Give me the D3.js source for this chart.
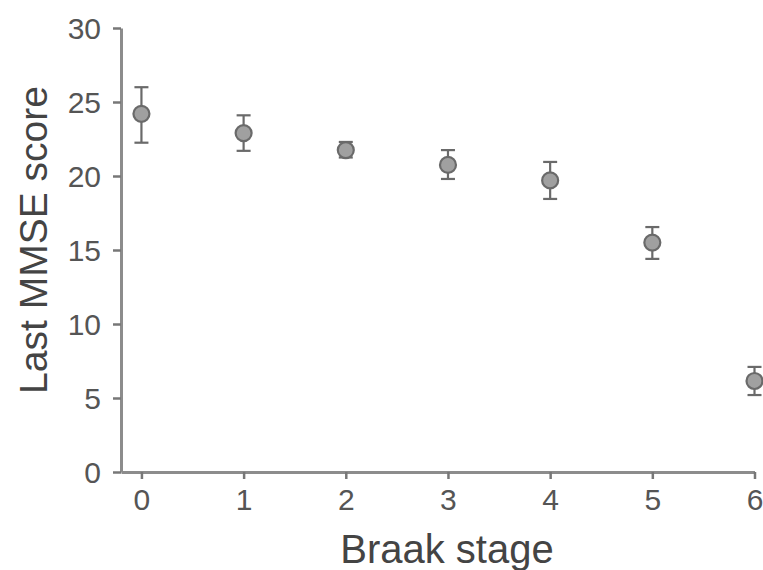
<!DOCTYPE html>
<html>
<head>
<meta charset="utf-8">
<script src="https://cdn.jsdelivr.net/npm/d3@7"></script>
<style>
  body { margin: 0; background: #fff; }
  svg { display: block; font-family: "Liberation Sans", Arial, sans-serif; }
</style>
</head>
<body>
<svg width="763" height="570"></svg>
<script>
// Braak stage vs last MMSE score (mean with error bars)
var stages = [0, 1, 2, 3, 4, 5, 6];
var meanScore = [24.2, 22.9, 21.75, 20.75, 19.7, 15.5, 6.15];
var errLow = [22.25, 21.7, 21.25, 19.8, 18.45, 14.4, 5.2];
var errHigh = [26.0, 24.1, 22.3, 21.75, 20.95, 16.55, 7.1];
var yTicks = [0, 5, 10, 15, 20, 25, 30];

var svg = d3.select("svg"),
    width = +svg.attr("width"),
    height = +svg.attr("height");

var axisColor = "#8c8c8c",
    textColor = "#555";

var x = d3.scaleLinear().domain([-0.2, 6]).range([121, 754.5]);
var y = d3.scaleLinear().domain([0, 30]).range([472, 28]);

var points = stages.map(function(s, i) {
  return {stage: s, mean: meanScore[i], lo: errLow[i], hi: errHigh[i]};
});

// y axis
var yAxis = svg.append("g")
    .attr("transform", "translate(" + x(-0.2) + ",0)")
    .call(d3.axisLeft(y).tickValues(yTicks).tickFormat(d3.format("d"))
      .tickSize(8).tickPadding(12).tickSizeOuter(0));

// x axis
var xAxis = svg.append("g")
    .attr("transform", "translate(0," + y(0) + ")")
    .call(d3.axisBottom(x).tickValues(stages).tickFormat(d3.format("d"))
      .tickSize(7).tickPadding(10).tickSizeOuter(0));

[yAxis, xAxis].forEach(function(ax) {
  ax.select(".domain").attr("stroke", axisColor).attr("stroke-width", 3);
  ax.selectAll(".tick line").attr("stroke", "#777").attr("stroke-width", 2.5);
  ax.selectAll(".tick text")
      .attr("fill", textColor)
      .style("font-size", "30px")
      .style("font-family", "'Liberation Sans', Arial, sans-serif");
});
yAxis.selectAll(".tick text").attr("dy", "0.36em");

// error bars
var bars = svg.append("g").attr("class", "errorbars")
  .selectAll("g")
  .data(points)
  .enter().append("g")
    .attr("stroke", "#6a6a6a")
    .attr("stroke-width", 2.2);

bars.append("line")
    .attr("x1", function(d) { return x(d.stage); })
    .attr("x2", function(d) { return x(d.stage); })
    .attr("y1", function(d) { return y(d.lo); })
    .attr("y2", function(d) { return y(d.hi); });

bars.append("line")
    .attr("x1", function(d) { return x(d.stage) - 7; })
    .attr("x2", function(d) { return x(d.stage) + 7; })
    .attr("y1", function(d) { return y(d.hi); })
    .attr("y2", function(d) { return y(d.hi); });

bars.append("line")
    .attr("x1", function(d) { return x(d.stage) - 7; })
    .attr("x2", function(d) { return x(d.stage) + 7; })
    .attr("y1", function(d) { return y(d.lo); })
    .attr("y2", function(d) { return y(d.lo); });

// markers
svg.append("g").attr("class", "points")
  .selectAll("circle")
  .data(points)
  .enter().append("circle")
    .attr("cx", function(d) { return x(d.stage); })
    .attr("cy", function(d) { return y(d.mean); })
    .attr("r", 8)
    .attr("fill", "#a0a0a0")
    .attr("stroke", "#6a6a6a")
    .attr("stroke-width", 2.2);

// axis titles
svg.append("text")
    .attr("x", 447)
    .attr("y", 563)
    .attr("text-anchor", "middle")
    .attr("fill", "#444")
    .style("font-size", "40px")
    .text("Braak stage");

svg.append("text")
    .attr("transform", "translate(47,240) rotate(-90)")
    .attr("text-anchor", "middle")
    .attr("fill", "#444")
    .style("font-size", "39px")
    .text("Last MMSE score");
</script>
</body>
</html>
